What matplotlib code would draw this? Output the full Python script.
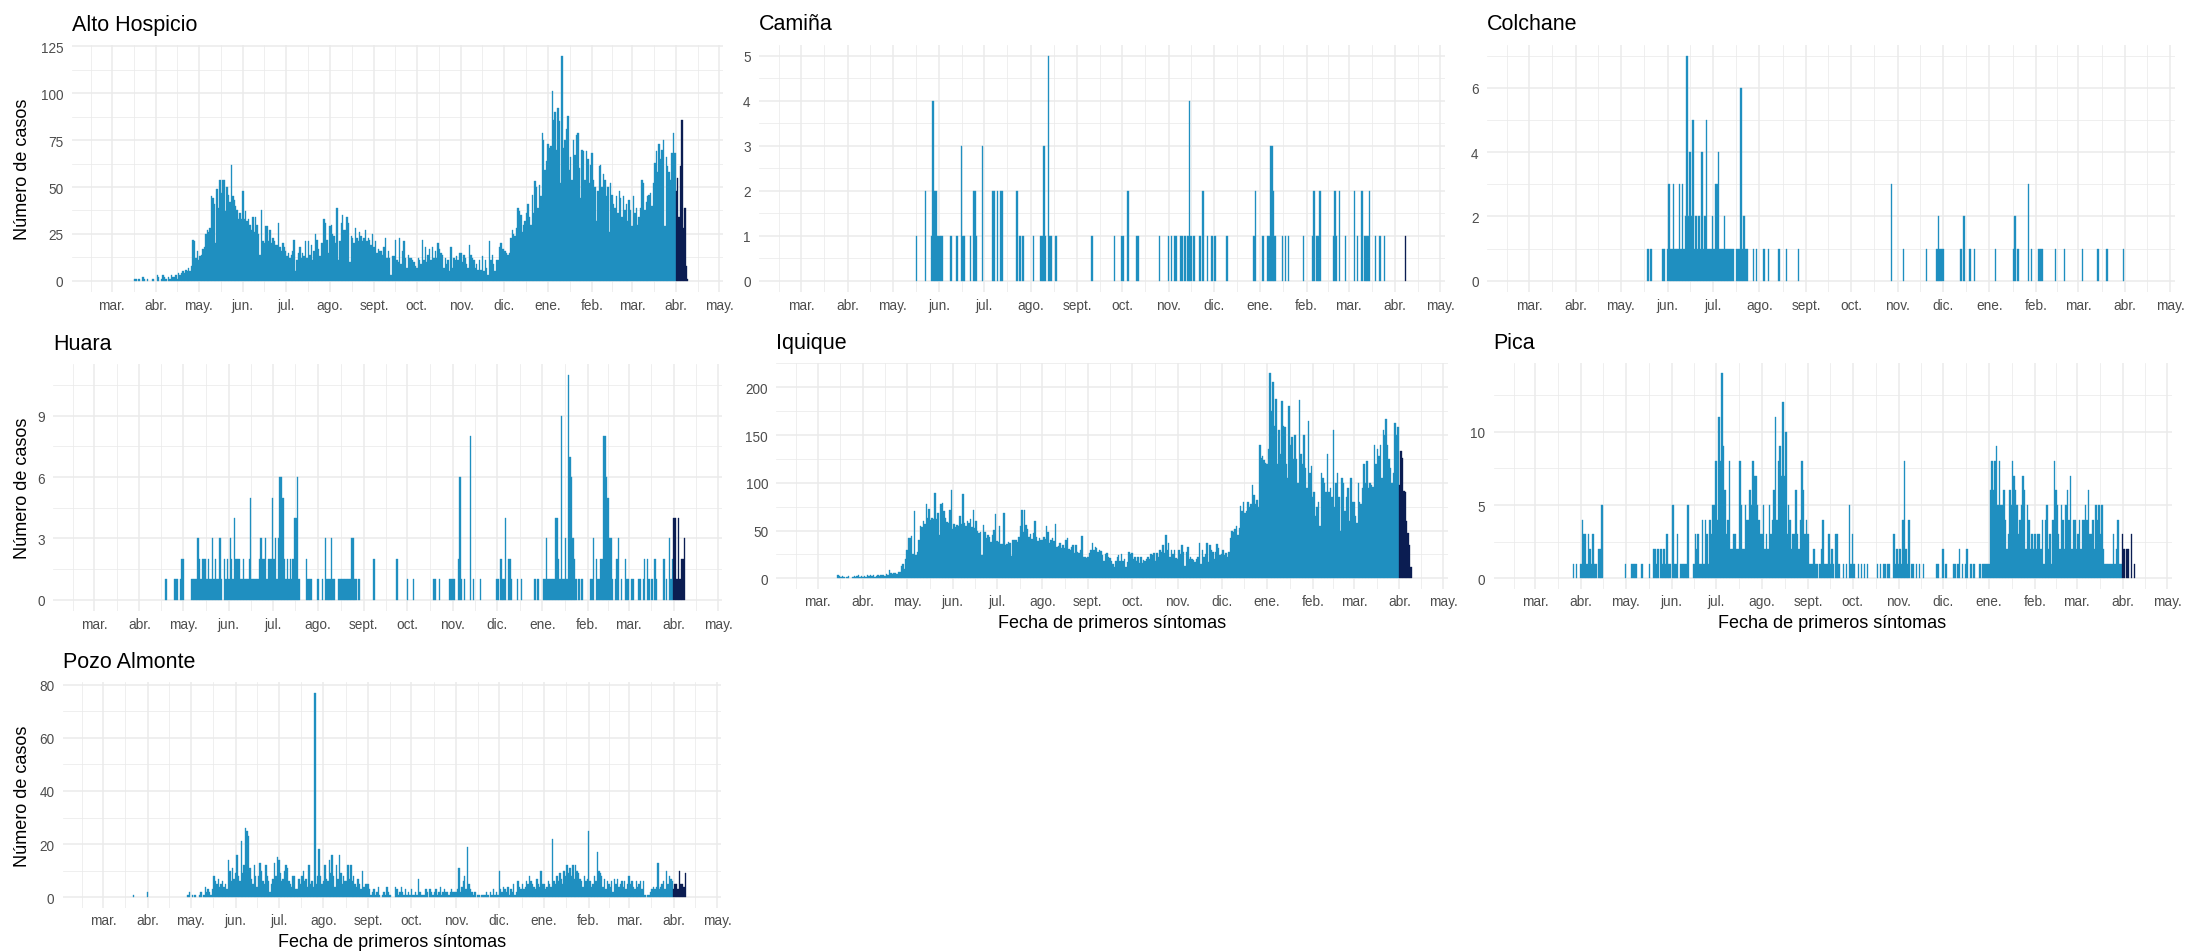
import numpy as np
import pandas as pd
import matplotlib
matplotlib.use("Agg")
import matplotlib.pyplot as plt
import matplotlib.dates as mdates

plt.rcParams["font.family"] = ["Liberation Sans", "DejaVu Sans"]

# Daily cases by date of first symptoms, 2020-03-01 .. 2021-04-09 (one list per month)
alto_hospicio = [
    [0,0,0,0,0,0,0,0,0,0, 0,0,0,0,0,0,1,1,0,1, 0,0,2,1,0,1,0,0,0,1, 0],
    [0,3,2,0,1,3,2,1,0,2, 1,3,2,2,3,1,4,3,4,5, 4,6,5,7,5,8,22,21,12,16],
    [11,13,14,17,18,25,27,26,28,45, 44,41,20,49,39,54,47,54,54,37, 50,46,42,62,45,43,40,38,33,36, 33],
    [48,33,37,32,33,30,27,34,26,34, 30,25,14,38,21,20,29,29,21,27, 20,23,21,19,19,31,18,16,20,18],
    [16,13,15,12,14,16,22,5,11,15, 18,12,15,13,21,12,21,14,19,11, 16,25,22,17,13,20,20,33,31,22, 15],
    [29,30,25,24,20,39,11,21,31,35, 27,27,34,31,10,24,23,20,28,23, 21,26,24,21,23,27,21,23,22,19, 25],
    [18,21,15,17,16,16,14,18,23,12, 16,12,3,13,13,22,11,10,23,9, 16,21,12,7,14,12,12,11,10,8],
    [7,12,11,9,22,11,18,10,14,17, 11,18,12,16,12,20,17,15,14,7, 12,9,11,5,18,7,12,11,13,11, 15],
    [15,10,14,12,9,7,19,14,12,11, 7,9,6,11,6,13,5,11,7,3, 21,11,14,9,5,11,11,18,20,17],
    [17,16,15,14,15,23,27,25,24,28, 39,37,35,26,30,32,36,41,34,30, 46,36,53,50,39,51,45,79,75,59, 64],
    [73,71,72,101,86,90,70,92,85,52, 120,71,75,81,88,59,66,54,75,67, 78,79,60,44,70,69,54,69,65,52, 62],
    [68,54,50,32,48,61,62,50,57,54, 45,50,26,52,46,41,39,45,36,48, 44,34,45,38,41,32,43,38],
    [29,45,36,39,30,34,39,54,52,38, 42,45,46,47,40,52,63,69,58,73, 65,70,75,29,66,61,58,54,68,79, 68],
    [48,55,34,61,86,28,39,8,1],
]

iquique = [
    [0,0,0,0,0,0,0,0,0,0, 0,0,0,0,3,2,1,2,1,0, 1,2,0,0,1,2,1,2,3,1, 2],
    [1,2,1,3,2,4,2,3,1,2, 3,2,3,4,3,2,5,4,9,6, 5,6,6,5,7,7,13,15,10,20],
    [30,42,42,44,25,70,24,28,40,55, 54,60,57,78,63,73,61,63,62,89, 62,68,45,78,79,70,63,59,58,72, 93],
    [52,57,54,56,55,65,57,88,58,55, 60,58,62,54,72,53,60,50,47,49, 24,56,48,42,45,43,38,45,51,67],
    [39,38,55,36,36,68,35,36,38,37, 23,40,40,40,38,43,55,72,48,72, 56,52,43,46,41,47,60,43,39,42, 40],
    [40,43,41,55,48,37,40,42,39,57, 33,34,37,32,35,32,40,42,31,30, 33,35,27,35,28,27,30,44,22,22, 21],
    [22,27,30,37,30,33,32,28,30,29, 24,18,25,27,22,21,18,15,12,18, 22,24,18,25,18,20,12,17,28,25],
    [27,20,22,18,22,16,22,16,19,18, 20,22,20,25,24,27,18,26,22,30, 28,35,26,45,30,37,22,30,25,30, 21],
    [20,30,25,35,28,13,28,33,20,22, 20,19,17,20,22,37,15,30,22,25, 37,17,35,30,28,20,28,36,32,24],
    [25,30,24,26,22,28,42,50,48,52, 55,45,53,76,70,80,68,70,80,75, 78,98,87,78,82,75,140,126,128,124, 121],
    [120,135,215,175,206,160,188,120,155,130, 186,160,158,120,105,180,140,148,125,150, 125,100,187,130,120,150,115,95,165,110, 118],
    [85,90,65,75,80,55,110,105,100,90, 130,90,95,85,155,75,100,110,85,50, 105,100,70,85,95,60,105,80],
    [80,65,58,100,80,78,95,120,100,123, 95,100,98,96,140,120,135,128,140,105, 155,150,167,140,125,115,100,110,163,150, 158],
    [98,133,126,91,90,60,47,35,12],
]

pozo_almonte = [
    [0,0,0,0,0,0,0,0,0,0, 0,0,0,0,0,0,0,0,0,0, 0,1,0,0,0,0,0,0,0,0, 0],
    [2,0,0,0,0,0,0,0,0,0, 0,0,0,0,0,0,0,0,0,0, 0,0,0,0,0,0,0,0,1,2],
    [0,1,0,1,0,0,1,2,0,1, 4,2,3,2,1,3,8,6,5,7, 4,5,6,4,5,3,14,10,6,11, 7],
    [9,16,8,6,21,9,12,26,25,23, 11,7,5,12,8,4,8,13,10,6, 5,12,8,6,2,5,7,13,8,15],
    [14,9,6,7,10,12,11,6,5,4, 8,8,3,3,7,5,8,10,6,7, 4,12,5,6,4,77,5,8,18,8, 5],
    [6,12,7,6,14,9,16,8,4,12, 7,16,9,5,8,6,6,12,7,12, 6,8,5,4,7,5,3,10,4,5, 5],
    [5,3,1,2,3,1,2,4,1,0, 1,2,1,4,2,1,0,0,0,4, 3,1,2,4,2,1,3,1,2,1],
    [3,1,1,2,1,7,2,1,1,1, 3,2,0,3,2,1,2,3,1,2, 4,1,2,3,2,2,1,2,3,2, 2],
    [2,3,11,2,4,6,8,3,19,5, 3,2,1,2,0,1,1,0,1,1, 1,2,1,0,2,1,3,1,2,1],
    [10,3,2,4,3,2,4,1,3,2, 5,1,2,6,4,3,5,3,4,6, 5,8,6,5,4,3,7,5,4,10, 5],
    [5,3,4,6,5,4,22,6,5,8, 6,9,7,5,10,8,12,9,11,8, 12,7,12,10,9,7,6,4,8,6, 7],
    [25,6,4,5,8,6,17,10,9,8, 4,7,3,6,5,4,6,2,7,5, 7,4,5,6,4,6,3,5],
    [8,5,6,4,3,6,4,5,6,3, 6,1,0,1,1,2,3,4,3,4, 13,3,4,5,6,3,10,5,8,7, 6],
    [3,5,5,3,10,5,5,4,9],
]

huara = [
    [0,0,0,0,0,0,0,0,0,0, 0,0,0,0,0,0,0,0,0,0, 0,0,0,0,0,0,0,0,0,0, 0],
    [0,0,0,0,0,0,0,0,0,0, 0,0,0,0,0,0,0,0,1,0, 0,0,0,0,1,1,1,0,1,2],
    [2,0,0,0,0,0,1,1,1,1, 3,2,1,2,2,2,1,2,1,1, 3,1,2,1,1,3,1,0,2,1, 2],
    [1,3,2,1,4,2,2,2,1,1, 2,1,1,1,2,5,1,1,1,1, 1,2,3,2,2,3,1,2,2,2],
    [5,2,3,1,3,6,6,5,2,1, 2,1,2,1,2,4,4,6,1,0, 0,0,0,2,1,1,1,0,0,0, 0],
    [1,0,0,1,0,3,1,1,1,3, 1,1,0,0,1,1,1,1,1,1, 1,1,1,3,3,1,1,0,1,0, 0],
    [0,0,0,0,0,0,0,2,0,0, 0,0,0,0,0,0,0,0,0,0, 0,0,0,2,0,0,0,0,0,0],
    [1,0,0,0,1,0,0,0,0,0, 0,0,0,0,0,0,0,0,1,1, 0,0,1,0,0,0,0,0,0,1, 1],
    [1,1,0,0,2,6,1,0,1,0, 0,0,8,0,1,0,0,0,0,1, 0,0,0,0,0,0,0,0,0,0],
    [1,1,0,2,1,1,4,0,2,2, 1,0,0,0,1,0,0,1,0,0, 0,0,0,0,0,0,1,0,1,0, 0],
    [0,1,1,3,1,1,1,1,1,4, 4,2,1,9,1,1,3,1,11,7, 6,3,2,1,0,1,0,1,0,0, 0],
    [0,0,1,1,3,0,2,1,1,2, 2,8,8,6,5,3,3,1,0,1, 2,3,0,1,0,0,2,1],
    [1,0,1,1,0,0,0,1,1,0, 1,2,0,2,1,0,1,0,2,1, 0,0,0,0,2,0,1,0,3,1, 2],
    [4,4,1,4,1,2,2,3,0],
]

pica = [
    [0,0,0,0,0,0,0,0,0,0, 0,0,0,0,0,0,0,0,0,0, 0,0,0,0,0,0,1,0,1,0, 0],
    [1,4,3,3,1,3,2,1,3,1, 1,0,2,2,5,0,0,0,0,0, 0,0,0,0,0,0,0,0,0,0],
    [1,0,0,0,1,1,1,1,0,0, 0,1,0,0,0,0,1,0,0,2, 2,1,2,0,2,1,2,1,3,1, 1],
    [0,5,1,1,3,0,1,1,1,1, 1,5,0,0,0,1,3,2,3,1, 1,4,1,4,3,1,4,3,5,5],
    [8,4,11,8,14,9,6,3,4,8, 2,2,3,3,2,2,8,5,2,2, 5,4,4,6,5,8,7,7,5,4, 3],
    [3,5,2,3,2,5,3,4,6,11, 4,8,9,7,12,7,10,3,5,4, 2,3,3,6,3,2,4,8,6,3, 4],
    [3,1,1,1,2,1,1,0,1,2, 4,1,1,1,3,1,2,1,0,3, 3,1,0,0,1,0,1,0,5,1],
    [3,1,0,0,1,0,1,0,1,0, 1,0,0,0,0,0,0,1,0,1, 0,1,1,0,1,1,0,0,3,1, 2],
    [1,2,1,4,8,2,1,4,0,1, 1,0,1,0,1,0,0,1,0,0, 0,0,0,0,0,0,1,1,0,0],
    [2,0,1,0,0,0,0,1,1,0, 1,2,0,1,0,1,2,0,0,1, 0,1,0,0,0,1,0,1,1,1, 1],
    [1,6,8,6,8,9,5,8,5,5, 6,4,2,3,6,5,8,7,6,5, 3,4,5,7,6,2,5,4,2,3, 2],
    [3,2,3,3,2,4,1,4,5,2, 3,1,4,8,6,5,3,2,5,4, 2,5,6,4,7,2,4,4],
    [2,3,4,2,4,4,5,4,6,3, 3,4,2,5,4,5,3,5,2,1, 1,1,1,1,1,3,1,2,4,1, 1],
    [3,2,0,2,2,0,3,0,1],
]

# Sparse communes: only the days with cases
camina = [
    ("2020-05-17", 1), ("2020-05-23", 2), ("2020-05-27", 1), ("2020-05-28", 4), ("2020-05-29", 2),
    ("2020-05-30", 2), ("2020-05-31", 1), ("2020-06-01", 1), ("2020-06-02", 1), ("2020-06-03", 1),
    ("2020-06-09", 1), ("2020-06-13", 1), ("2020-06-16", 3), ("2020-06-17", 1), ("2020-06-18", 1),
    ("2020-06-22", 1), ("2020-06-24", 2), ("2020-06-25", 2), ("2020-06-26", 1), ("2020-06-30", 3),
    ("2020-07-07", 2), ("2020-07-08", 2), ("2020-07-10", 2), ("2020-07-12", 2), ("2020-07-13", 2),
    ("2020-07-23", 2), ("2020-07-25", 1), ("2020-07-27", 1), ("2020-08-03", 1), ("2020-08-08", 1),
    ("2020-08-09", 1), ("2020-08-10", 3), ("2020-08-11", 1), ("2020-08-13", 5), ("2020-08-14", 1),
    ("2020-08-15", 1), ("2020-08-18", 1), ("2020-09-11", 1), ("2020-09-26", 1), ("2020-10-01", 1),
    ("2020-10-02", 1), ("2020-10-05", 2), ("2020-10-11", 1), ("2020-10-12", 1), ("2020-10-26", 1),
    ("2020-11-01", 1), ("2020-11-03", 1), ("2020-11-05", 1), ("2020-11-06", 1), ("2020-11-09", 1),
    ("2020-11-10", 1), ("2020-11-12", 1), ("2020-11-14", 1), ("2020-11-15", 4), ("2020-11-16", 1),
    ("2020-11-18", 1), ("2020-11-22", 1), ("2020-11-24", 2), ("2020-11-27", 1), ("2020-11-30", 1),
    ("2020-12-02", 1), ("2020-12-10", 1), ("2020-12-28", 1), ("2020-12-29", 2), ("2021-01-03", 1),
    ("2021-01-06", 1), ("2021-01-07", 1), ("2021-01-08", 3), ("2021-01-09", 3), ("2021-01-10", 2),
    ("2021-01-11", 1), ("2021-01-16", 1), ("2021-01-18", 1), ("2021-01-20", 1), ("2021-01-30", 1),
    ("2021-02-05", 1), ("2021-02-06", 2), ("2021-02-08", 1), ("2021-02-09", 1), ("2021-02-10", 2),
    ("2021-02-19", 1), ("2021-02-20", 2), ("2021-02-21", 1), ("2021-02-23", 2), ("2021-02-27", 1),
    ("2021-03-05", 2), ("2021-03-07", 1), ("2021-03-10", 2), ("2021-03-12", 1), ("2021-03-13", 1),
    ("2021-03-14", 1), ("2021-03-15", 2), ("2021-03-19", 1), ("2021-03-22", 1), ("2021-03-25", 1),
    ("2021-04-08", 1),
]

colchane = [
    ("2020-05-19", 1), ("2020-05-21", 1), ("2020-05-29", 1), ("2020-05-30", 1),
    ("2020-06-01", 1), ("2020-06-02", 3), ("2020-06-03", 1), ("2020-06-04", 1), ("2020-06-05", 3),
    ("2020-06-06", 1), ("2020-06-07", 1), ("2020-06-08", 1), ("2020-06-09", 3), ("2020-06-10", 1),
    ("2020-06-11", 3), ("2020-06-12", 1), ("2020-06-13", 2), ("2020-06-14", 7), ("2020-06-15", 2),
    ("2020-06-16", 4), ("2020-06-17", 2), ("2020-06-18", 5), ("2020-06-19", 1), ("2020-06-20", 2),
    ("2020-06-21", 1), ("2020-06-22", 2), ("2020-06-23", 1), ("2020-06-24", 4), ("2020-06-25", 1),
    ("2020-06-26", 2), ("2020-06-27", 5), ("2020-06-28", 1), ("2020-06-29", 1), ("2020-06-30", 1),
    ("2020-07-01", 2), ("2020-07-02", 1), ("2020-07-03", 3), ("2020-07-04", 3), ("2020-07-05", 4),
    ("2020-07-06", 1), ("2020-07-07", 1), ("2020-07-08", 1), ("2020-07-09", 2), ("2020-07-10", 1),
    ("2020-07-11", 1), ("2020-07-12", 1), ("2020-07-13", 1), ("2020-07-14", 1), ("2020-07-15", 1),
    ("2020-07-17", 1), ("2020-07-18", 1), ("2020-07-19", 1), ("2020-07-20", 6), ("2020-07-21", 1),
    ("2020-07-22", 2), ("2020-07-23", 1), ("2020-07-24", 1), ("2020-07-28", 1), ("2020-07-30", 1),
    ("2020-08-04", 1), ("2020-08-07", 1), ("2020-08-14", 1), ("2020-08-19", 1), ("2020-08-27", 1),
    ("2020-10-28", 3), ("2020-11-05", 1), ("2020-11-20", 1), ("2020-11-27", 1), ("2020-11-28", 2),
    ("2020-11-29", 1), ("2020-11-30", 1), ("2020-12-01", 1), ("2020-12-13", 1), ("2020-12-15", 2),
    ("2020-12-19", 1), ("2020-12-22", 1), ("2021-01-05", 1), ("2021-01-17", 1), ("2021-01-18", 2),
    ("2021-01-20", 1), ("2021-01-27", 3), ("2021-01-29", 1), ("2021-02-03", 1), ("2021-02-04", 1),
    ("2021-02-05", 1), ("2021-02-14", 1), ("2021-02-20", 1), ("2021-03-04", 1), ("2021-03-14", 1),
    ("2021-03-20", 1), ("2021-03-31", 1),
]

month_labels = ["mar.", "abr.", "may.", "jun.", "jul.", "ago.", "sept.", "oct.",
                "nov.", "dic.", "ene.", "feb.", "mar.", "abr.", "may."]

first_day = pd.Timestamp("2020-03-01")
last_day = pd.Timestamp("2021-04-09")
provisional_from = pd.Timestamp("2021-04-01")
days = pd.date_range(first_day, last_day)
month_starts = pd.date_range(first_day, last_day, freq="MS")


def join_months(months, name):
    out = []
    for start, vals in zip(month_starts, months):
        end = min(start + pd.offsets.MonthEnd(0), last_day)
        n = (end - start).days + 1
        if len(vals) != n:
            raise ValueError(f"{name} {start:%Y-%m}: {len(vals)} values, expected {n}")
        out.extend(vals)
    return np.array(out)


def from_records(records):
    s = pd.Series(0, index=days)
    for d, n in records:
        s[pd.Timestamp(d)] = n
    return s.to_numpy()


series = {
    "Alto Hospicio": join_months(alto_hospicio, "Alto Hospicio"),
    "Camiña": from_records(camina),
    "Colchane": from_records(colchane),
    "Huara": join_months(huara, "Huara"),
    "Iquique": join_months(iquique, "Iquique"),
    "Pica": join_months(pica, "Pica"),
    "Pozo Almonte": join_months(pozo_almonte, "Pozo Almonte"),
}

y_ticks = {
    "Alto Hospicio": [0, 25, 50, 75, 100, 125],
    "Camiña": [0, 1, 2, 3, 4, 5],
    "Colchane": [0, 2, 4, 6],
    "Huara": [0, 3, 6, 9],
    "Iquique": [0, 50, 100, 150, 200],
    "Pica": [0, 5, 10],
    "Pozo Almonte": [0, 20, 40, 60, 80],
}

# panel boxes in pixels: left, top, right, bottom; plus which axis titles are shown
layout = {
    "Alto Hospicio": ((71.8, 45.5, 723.3, 293.0), True, False),
    "Camiña": ((759.0, 45.5, 1444.5, 293.0), False, False),
    "Colchane": ((1487.0, 45.5, 2174.5, 293.0), False, False),
    "Huara": ((53.0, 364.6, 722.4, 612.0), True, False),
    "Iquique": ((776.4, 363.7, 1447.9, 589.6), False, True),
    "Pica": ((1493.5, 363.8, 2171.5, 589.6), False, True),
    "Pozo Almonte": ((62.6, 683.4, 721.3, 908.5), True, True),
}

W, H = 2189, 953
fig = plt.figure(figsize=(W / 100, H / 100), dpi=100)

light = "#1f8fc0"
dark = "#0b1d52"
grid_col = "#ebebeb"

x = mdates.date2num(days)
colors = np.where(days >= provisional_from, dark, light)

x_min = mdates.date2num(pd.Timestamp("2020-02-02"))
x_max = mdates.date2num(pd.Timestamp("2021-05-04"))
major = pd.date_range("2020-03-01", "2021-05-01", freq="MS")
edges = pd.date_range("2020-02-01", "2021-05-01", freq="MS")
minor = [a + (b - a) / 2 for a, b in zip(edges[:-1], edges[1:])]

for name, vals in series.items():
    (l, t, r, b), show_y, show_x = layout[name]
    ax = fig.add_axes([l / W, 1 - b / H, (r - l) / W, (b - t) / H])
    has_cases = vals > 0
    ax.bar(x[has_cases], vals[has_cases], width=1.0, color=colors[has_cases],
           edgecolor=colors[has_cases], linewidth=0.25)

    top = vals.max()
    ax.set_xlim(x_min, x_max)

    ax.set_xticks(mdates.date2num(major))
    ax.set_xticklabels(month_labels)
    ax.set_xticks(mdates.date2num(pd.DatetimeIndex(minor)), minor=True)
    yt = y_ticks[name]
    ax.set_yticks(yt)
    step = yt[1] - yt[0]
    ax.set_yticks([v + step / 2 for v in [yt[0] - step] + yt], minor=True)
    ax.set_ylim(-0.05 * top, 1.05 * top)

    ax.grid(which="major", color=grid_col, linewidth=1.1)
    ax.grid(which="minor", color=grid_col, linewidth=0.55)
    ax.set_axisbelow(True)
    for s in ax.spines.values():
        s.set_visible(False)
    ax.tick_params(which="both", length=0)
    ax.tick_params(axis="x", labelsize=9.8, labelcolor="#4d4d4d", pad=4)
    ax.tick_params(axis="y", labelsize=9.8, labelcolor="#4d4d4d", pad=6)

    fig.text(l / W, 1 - (t - 15) / H, name, fontsize=15.5, ha="left", va="baseline")
    if show_y:
        fig.text(23 / W, 1 - ((t + b) / 2) / H, "Número de casos", fontsize=13,
                 rotation=90, ha="center", va="center")
    if show_x:
        fig.text(((l + r) / 2) / W, 1 - (b + 34) / H, "Fecha de primeros síntomas",
                 fontsize=13, ha="center", va="center")

fig.savefig("out.png", dpi=100)
